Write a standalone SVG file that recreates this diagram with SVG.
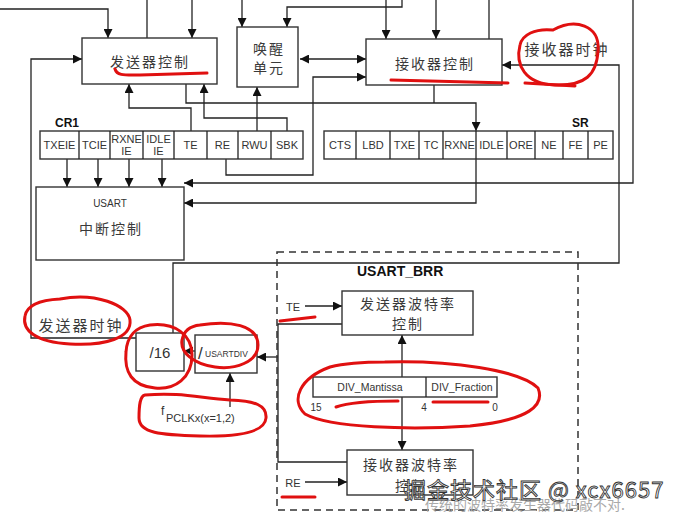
<svg xmlns="http://www.w3.org/2000/svg" width="687" height="520" viewBox="0 0 687 520">
<defs>
<marker id="ah" viewBox="0 0 10 10" refX="10" refY="5" markerWidth="9" markerHeight="9" markerUnits="userSpaceOnUse" orient="auto-start-reverse"><path d="M0,0 L10,5 L0,10 z" fill="#111"/></marker>
<style>
.box{fill:#fff;stroke:#333;stroke-width:1.4}
.w{fill:none;stroke:#222;stroke-width:1.3}
.a{fill:none;stroke:#222;stroke-width:1.3;marker-end:url(#ah)}
.cn{font-family:"Noto Sans CJK SC","Noto Sans",sans-serif;fill:#3a3a3a;text-anchor:middle;letter-spacing:2px}
.lb{font-family:"Liberation Sans",Arial,sans-serif;fill:#333;text-anchor:middle}
.ls{font-family:"Liberation Sans",Arial,sans-serif;fill:#333}
.bd{font-family:"Liberation Sans",Arial,sans-serif;fill:#111;font-weight:bold}
.red{fill:none;stroke:#e01010;stroke-width:3;stroke-linecap:round;stroke-linejoin:round}
</style>
</defs>
<rect width="687" height="520" fill="#fff"/>

<g id="connectors">
<path class="a" d="M0,9 H108 V38"/>
<path class="w" d="M147,0 V38"/>
<path class="a" d="M192,0 V38"/>
<path class="a" d="M136,338 H31 V59 H82"/>
<path class="a" d="M242,0 V27"/>
<path class="a" d="M402,0 V7 H287 V27"/>
<path class="a" d="M300,59 H366" style="marker-start:url(#ah)"/>
<path class="a" d="M386,0 V39"/>
<path class="a" d="M436,0 V39"/>
<path class="w" d="M489,0 V39"/>
<path class="a" d="M186,84 V103 H476 V131"/>
<path class="w" d="M434,85 V103"/>
<path class="a" d="M476,159 V203 H184"/>
<path class="a" d="M633,0 V183 H184"/>
<path class="a" d="M191,131 V108 H129 V84"/>
<path class="a" d="M287,131 V118 H204 V84"/>
<path class="a" d="M257,131 V87"/>
<path class="a" d="M226,159 V175 H313 V77 H366"/>
<path class="a" d="M67,159 V187"/>
<path class="a" d="M98,159 V187"/>
<path class="a" d="M129,159 V187"/>
<path class="a" d="M162,159 V187"/>
<path class="a" d="M173,333 V263 H619 V65 H502"/>
<path class="a" d="M195,351 H184"/>
<path class="w" d="M342,324 H278 V462 H347"/>
<path class="a" d="M278,357 H257"/>
<path class="a" d="M305,306 H342"/>
<path class="a" d="M305,482 H347"/>
<path class="a" d="M402,377 V335"/>
<path class="a" d="M402,397 V450"/>
<path class="a" d="M230,407 V373"/>
</g>

<g id="tx-ctrl"><rect class="box" x="82" y="38" width="135" height="46"/><text class="cn" x="150" y="67" font-size="14">发送器控制</text></g>
<g id="wakeup"><rect class="box" x="237" y="27" width="61" height="60"/><text class="cn" x="269" y="54" font-size="14">唤醒</text><text class="cn" x="269" y="73" font-size="14">单元</text></g>
<g id="rx-ctrl"><rect class="box" x="366" y="39" width="136" height="46"/><text class="cn" x="435" y="69" font-size="14">接收器控制</text></g>
<g id="rx-clk"><text class="cn" x="567" y="55" font-size="15">接收器时钟</text></g>

<g id="cr1" font-size="11">
<text class="bd" x="55" y="127" font-size="12">CR1</text>
<rect class="box" x="40" y="131" width="263" height="28"/>
<path class="w" d="M79,131 V159 M110,131 V159 M143,131 V159 M174,131 V159 M207,131 V159 M238,131 V159 M271,131 V159"/>
<text class="lb" x="59.5" y="149">TXEIE</text>
<text class="lb" x="94.5" y="149">TCIE</text>
<text class="lb" x="126.5" y="143">RXNE</text><text class="lb" x="126.5" y="155">IE</text>
<text class="lb" x="158.5" y="143">IDLE</text><text class="lb" x="158.5" y="155">IE</text>
<text class="lb" x="190.5" y="149">TE</text>
<text class="lb" x="222.5" y="149">RE</text>
<text class="lb" x="254.5" y="149">RWU</text>
<text class="lb" x="287" y="149">SBK</text>
</g>

<g id="sr" font-size="11">
<text class="bd" x="572" y="127" font-size="12">SR</text>
<rect class="box" x="324" y="131" width="289" height="28"/>
<path class="w" d="M356,131 V159 M390,131 V159 M419,131 V159 M443,131 V159 M476,131 V159 M507,131 V159 M535,131 V159 M563,131 V159 M588,131 V159"/>
<text class="lb" x="340" y="149">CTS</text>
<text class="lb" x="373" y="149">LBD</text>
<text class="lb" x="404.5" y="149">TXE</text>
<text class="lb" x="431" y="149">TC</text>
<text class="lb" x="459.5" y="149">RXNE</text>
<text class="lb" x="491.5" y="149">IDLE</text>
<text class="lb" x="521" y="149">ORE</text>
<text class="lb" x="549" y="149">NE</text>
<text class="lb" x="575.5" y="149">FE</text>
<text class="lb" x="600.5" y="149">PE</text>
</g>

<g id="usart-int"><rect class="box" x="36" y="187" width="148" height="73"/><text class="lb" x="110" y="207" font-size="10">USART</text><text class="cn" x="111" y="234" font-size="14">中断控制</text></g>

<g id="tx-clk"><text class="cn" x="81" y="331" font-size="15">发送器时钟</text></g>
<g id="div16"><rect class="box" x="136" y="333" width="48" height="38"/><text class="lb" x="160" y="358" font-size="15">/16</text></g>
<g id="usartdiv"><rect class="box" x="195" y="335" width="62" height="38"/><text class="ls" x="198" y="359" font-size="17">/</text><text class="ls" x="205" y="357" font-size="8.5">USARTDIV</text></g>
<g id="fpclk"><text class="ls" x="161" y="415" font-size="12">f</text><text class="ls" x="166" y="422" font-size="11">PCLKx(x=1,2)</text></g>

<g id="brr">
<rect x="277" y="252" width="301" height="258" fill="none" stroke="#333" stroke-width="1.5" stroke-dasharray="7 5"/>
<text class="bd" x="357" y="276" font-size="14">USART_BRR</text>
<text class="lb" x="293" y="311" font-size="11">TE</text>
<text class="lb" x="293" y="487" font-size="11">RE</text>
</g>
<g id="tx-baud"><rect class="box" x="342" y="291" width="131" height="44"/><text class="cn" x="408" y="309" font-size="14">发送器波特率</text><text class="cn" x="408" y="329" font-size="14">控制</text></g>
<g id="div-reg">
<rect class="box" x="313" y="377" width="184" height="20"/>
<path class="w" d="M426,377 V397"/>
<text class="lb" x="370" y="391" font-size="10.5">DIV_Mantissa</text>
<text class="lb" x="462" y="391" font-size="10.5">DIV_Fraction</text>
<text class="lb" x="316" y="411" font-size="10">15</text>
<text class="lb" x="424" y="411" font-size="10">4</text>
<text class="lb" x="495" y="411" font-size="10">0</text>
</g>
<g id="rx-baud"><rect class="box" x="347" y="450" width="126" height="45"/><text class="cn" x="411" y="470" font-size="14">接收器波特率</text><text class="cn" x="411" y="491" font-size="14">控制</text></g>

<g id="annotations">
<path class="red" d="M115,69 C117,76 125,75 140,75 L207,73"/>
<path class="red" d="M391,80 L508,83"/>
<path class="red" d="M553,30 C575,18 600,25 598,50 C597,75 585,86 555,85 C525,84 515,65 520,45 C522,35 535,28 553,30"/>
<path class="red" d="M525,83 L575,86"/>
<path class="red" d="M60,299 C95,292 128,305 130,320 C132,338 105,346 70,344 C35,342 22,330 25,316 C27,305 40,300 60,299"/>
<path class="red" d="M150,325 C175,322 192,335 192,355 C192,378 175,390 155,388 C132,386 124,372 126,352 C127,336 136,327 150,325"/>
<path class="red" d="M200,325 C230,320 258,325 258,345 C258,362 235,370 215,367 C193,364 180,352 182,340 C184,330 190,326 200,325"/>
<path class="red" d="M145,395 C180,392 200,398 230,400 C255,401 267,405 266,418 C265,432 240,437 200,436 C160,435 139,433 139,418 C139,405 140,396 145,395"/>
<path class="red" d="M280,321 L315,317"/>
<path class="red" d="M282,497 L315,497"/>
<path class="red" d="M385,362 C450,360 520,370 538,388 C545,405 530,420 470,426 C410,430 330,428 305,414 C290,400 300,378 330,367 C350,362 370,362 385,362"/>
<path class="red" d="M336,407 C350,402 380,401 398,401"/>
<path class="red" d="M433,402 L488,402"/>
</g>

<g id="watermark">
<text x="425" y="510" font-family="Noto Sans CJK SC,sans-serif" font-size="14" fill="#aaa">传统的波特率发生器代码敲不对.</text>
<text x="404" y="498" font-family="Noto Sans CJK SC,sans-serif" font-size="22" letter-spacing="1" fill="#fff" stroke="#333" stroke-width="0.9">掘金技术社区 @ xcx6657</text>
</g>
</svg>
